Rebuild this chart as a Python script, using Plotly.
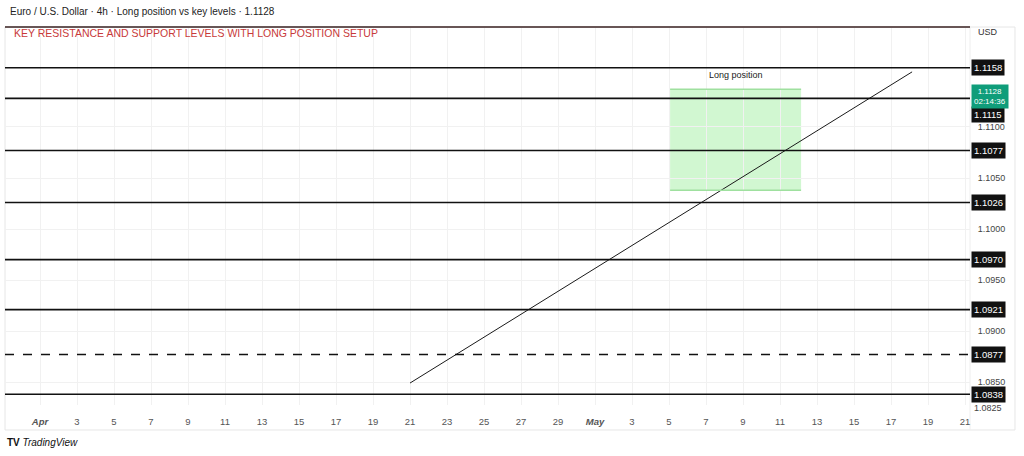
import plotly.graph_objects as go

# ---- data ----
x_labels = ["Apr", "3", "5", "7", "9", "11", "13", "15", "17", "19", "21", "23", "25",
            "27", "29", "May", "3", "5", "7", "9", "11", "13", "15", "17", "19", "21"]
x_pos = list(range(len(x_labels)))

y_ticks = [1.1100, 1.1050, 1.1000, 1.0950, 1.0900, 1.0850]
y_tick_text = ["1.1100", "1.1050", "1.1000", "1.0950", "1.0900", "1.0850"]

levels_solid = [1.1158, 1.1128, 1.1077, 1.1026, 1.0970, 1.0921, 1.0838]
level_dashed = [1.0877]
label_levels = [1.1158, 1.1115, 1.1077, 1.1026, 1.0970, 1.0921, 1.0877, 1.0838]
label_texts = ["1.1158", "1.1115", "1.1077", "1.1026", "1.0970", "1.0921", "1.0877", "1.0838"]
current_price = 1.1128
countdown = "02:14:36"

trend_x = [10.0, 23.57]
trend_y = [1.0849, 1.1154]

long_x = [17.03, 20.57]
long_y = [1.1038, 1.1137]

x_range = [-0.946, 25.135]
y_range = [1.08275, 1.1198]

FONT = "Liberation Sans, Arial, sans-serif"

fig = go.Figure()

fig.add_trace(go.Scatter(x=trend_x, y=trend_y, mode="lines",
                         line=dict(color="#1a1a1a", width=1), hoverinfo="skip",
                         showlegend=False))

shapes = []
# long position box
shapes.append(dict(type="rect", xref="x", yref="y", x0=long_x[0], x1=long_x[1],
                   y0=long_y[0], y1=long_y[1], fillcolor="rgba(140,235,140,0.40)",
                   line=dict(width=0), layer="below"))
for yy in long_y:
    shapes.append(dict(type="line", xref="x", yref="y", x0=long_x[0], x1=long_x[1],
                       y0=yy, y1=yy, line=dict(color="#9fe09f", width=1.5)))
# horizontal levels
for lv in levels_solid:
    shapes.append(dict(type="line", xref="paper", yref="y", x0=0, x1=1, y0=lv, y1=lv,
                       line=dict(color="#111111", width=1.6)))
for lv in level_dashed:
    shapes.append(dict(type="line", xref="paper", yref="y", x0=0, x1=1, y0=lv, y1=lv,
                       line=dict(color="#111111", width=1.6, dash="dash")))
# top line
shapes.append(dict(type="line", xref="paper", yref="paper", x0=0, x1=1, y0=1, y1=1,
                   line=dict(color="#3a2222", width=1.6)))
# panel border
shapes.append(dict(type="rect", xref="paper", yref="paper", x0=0, x1=1.0466,
                   y0=-0.0661, y1=1, line=dict(color="#e6e6e6", width=1), layer="below"))
shapes.append(dict(type="line", xref="paper", yref="paper", x0=1, x1=1,
                   y0=-0.0661, y1=1, line=dict(color="#eeeeee", width=1), layer="below"))

annotations = []
for lv, txt in zip(label_levels, label_texts):
    annotations.append(dict(xref="paper", yref="y", x=1.001, y=lv, text=txt,
                            showarrow=False, xanchor="left", yanchor="middle",
                            yshift=-3 if txt == "1.1115" else 0,
                            bgcolor="#111111", font=dict(color="white", size=9.5, family=FONT),
                            borderpad=2))
annotations.append(dict(xref="paper", yref="y", x=1.001, y=current_price,
                        text=f"{current_price:.4f}<br>{countdown}", showarrow=False,
                        xanchor="left", yanchor="middle", yshift=2, bgcolor="#0f9d7a",
                        font=dict(color="white", size=8, family=FONT), borderpad=2))
annotations.append(dict(xref="paper", yref="paper", x=0.003, y=1.0423,
                        text="Euro / U.S. Dollar · 4h · Long position vs key levels · 1.1128",
                        showarrow=False, xanchor="left", yanchor="middle",
                        font=dict(color="#222222", size=10, family=FONT)))
annotations.append(dict(xref="paper", yref="paper", x=0.007, y=0.985,
                        text="KEY RESISTANCE AND SUPPORT LEVELS WITH LONG POSITION SETUP",
                        showarrow=False, xanchor="left", yanchor="middle",
                        font=dict(color="#c83a3a", size=10.5, family=FONT)))
annotations.append(dict(xref="paper", yref="paper", x=1.019, y=0.987, text="USD",
                        showarrow=False, xanchor="center", yanchor="middle",
                        font=dict(color="#333333", size=9, family=FONT)))
annotations.append(dict(xref="x", yref="y", x=sum(long_x) / 2, y=1.1151,
                        text="Long position", showarrow=False, yanchor="middle",
                        font=dict(color="#222222", size=9, family=FONT)))
annotations.append(dict(xref="paper", yref="paper", x=1.019, y=-0.008, text="1.0825",
                        showarrow=False, xanchor="center", yanchor="middle",
                        font=dict(color="#444444", size=9, family=FONT)))
annotations.append(dict(xref="paper", yref="paper", x=0.0, y=-0.1005,
                        text="<b>TV</b> <i>TradingView</i>", showarrow=False,
                        xanchor="left", yanchor="middle",
                        font=dict(color="#111111", size=10, family=FONT)))

fig.update_layout(
    width=1024, height=456,
    margin=dict(l=5, r=54, t=27, b=51),
    paper_bgcolor="white", plot_bgcolor="white",
    showlegend=False,
    shapes=shapes, annotations=annotations,
    font=dict(family=FONT),
    xaxis=dict(range=x_range, tickvals=x_pos, automargin=False,
               ticktext=[f"<b><i>{t}</i></b>" if not t.isdigit() else t for t in x_labels],
               showgrid=True, gridcolor="#f1f1f1", zeroline=False, showline=False,
               ticks="outside", ticklen=8, tickcolor="rgba(0,0,0,0)",
               tickfont=dict(size=9.5, color="#555555", family=FONT), fixedrange=True),
    yaxis=dict(range=y_range, side="right", tickvals=y_ticks, ticktext=y_tick_text,
               automargin=False,
               showgrid=True, gridcolor="#f1f1f1", zeroline=False, showline=False,
               ticks="outside", ticklen=5, tickcolor="rgba(0,0,0,0)",
               tickfont=dict(size=9, color="#444444", family=FONT), fixedrange=True),
)

fig.write_html("out.html", config={"displayModeBar": False},
               post_script="document.body.style.margin='0';document.body.style.overflow='hidden';")
